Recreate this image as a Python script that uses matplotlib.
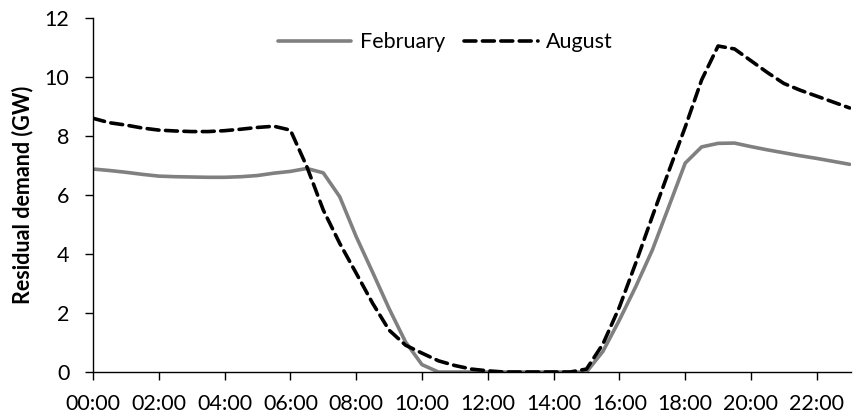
import matplotlib
matplotlib.use("Agg")
import matplotlib.pyplot as plt
import numpy as np

hours = [i * 0.5 for i in range(47)]
february = [6.88, 6.83, 6.77, 6.70, 6.64, 6.62, 6.61, 6.60, 6.60, 6.62,
            6.66, 6.74, 6.80, 6.90, 6.75, 5.94, 4.59, 3.38, 2.15, 1.02,
            0.25, 0.0, 0.0, 0.0, 0.0, 0.0, 0.0, 0.0, 0.0, 0.0,
            0.0, 0.7, 1.76, 2.9, 4.13, 5.6, 7.08, 7.63, 7.75, 7.76,
            7.64, 7.53, 7.43, 7.33, 7.24, 7.14, 7.04]
august = [8.6, 8.45, 8.37, 8.27, 8.2, 8.17, 8.15, 8.15, 8.18, 8.23,
          8.29, 8.33, 8.2, 6.96, 5.49, 4.36, 3.35, 2.33, 1.42, 0.91,
          0.64, 0.38, 0.22, 0.1, 0.04, 0.0, 0.0, 0.0, 0.0, 0.0,
          0.1, 0.95, 2.2, 3.7, 5.27, 6.8, 8.3, 9.9, 11.05, 10.95,
          10.55, 10.15, 9.78, 9.55, 9.35, 9.15, 8.95]
xtick_hours = list(range(0, 23, 2))
xtick_labels = [f"{h:02d}:00" for h in xtick_hours]
yticks = [0, 2, 4, 6, 8, 10, 12]

plt.rcParams['font.family'] = ['Lato', 'DejaVu Sans']
fs = 15.5
fig = plt.figure(figsize=(8.57, 4.18), dpi=100)
ax = fig.add_axes([0.1085, 0.110, 0.8845, 0.847])

ax.plot(hours, february, color='#808080', lw=2.6, label='February',
        solid_capstyle='round', solid_joinstyle='round')
ax.plot(hours, august, color='black', lw=2.6, linestyle=(0, (3.3, 1.8)), label='August',
        dash_capstyle='round', dash_joinstyle='round')

ax.set_xlim(0, 23.04)
ax.set_ylim(0, 12)
ax.set_xticks(xtick_hours)
ax.set_xticklabels(xtick_labels)
ax.set_yticks(yticks)
for s in ['top', 'right']:
    ax.spines[s].set_visible(False)
for s in ['left', 'bottom']:
    ax.spines[s].set_linewidth(1.0)
ax.tick_params(axis='both', direction='out', length=6, width=1.0, labelsize=fs, colors='black')
ax.tick_params(axis='x', pad=10)
ax.tick_params(axis='y', pad=11)
ax.set_ylabel('Residual demand (GW)', fontsize=fs, fontweight='bold')
ax.yaxis.set_label_coords(-0.078, 0.5)

leg = ax.legend(loc='upper center', bbox_to_anchor=(0.465, 1.015), ncol=2, frameon=False,
                fontsize=fs, handlelength=3.4, handletextpad=0.4, columnspacing=0.9)

fig.savefig('out.png', dpi=100)
